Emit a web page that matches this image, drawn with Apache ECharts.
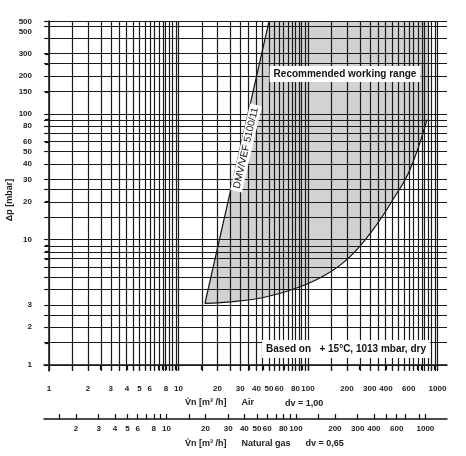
<!DOCTYPE html>
<html><head><meta charset="utf-8">
<script src="https://cdn.jsdelivr.net/npm/echarts@6/dist/echarts.min.js"></script>
<style>html,body{margin:0;padding:0;background:#fff}#c{width:466px;height:456px}</style>
</head><body><div id="c"></div>
<script>
// Data (air flow m3/h, pressure drop mbar)
const curveX = [16, 26.4, 48, 87, 140, 211, 318, 453, 613, 830];
const curveY = [3.1, 3.2, 3.5, 4.2, 5.3, 7.3, 12, 20.8, 36, 90];
const leftX = [16, 50];
const leftY = [3.1, 547];
const topRightX = 860;
const yTickLabels = [1, 2, 3, 10, 20, 30, 40, 50, 60, 80, 100, 150, 200, 300, 450, 547];
const yTickText = {450: '500', 547: '500'};
const airTickLabels = [1, 2, 3, 4, 5, 6, 8, 10, 20, 30, 40, 50, 60, 80, 100, 200, 300, 400, 600, 800, 1000];
const airTicks = [1, 1.5, 2, 2.5, 3, 3.5, 4, 4.5, 5, 5.5, 6, 6.5, 7, 7.5, 8, 8.5, 9, 9.5, 10];
const gasTickLabels = [2, 3, 4, 5, 6, 8, 10, 20, 30, 40, 50, 60, 80, 100, 200, 300, 400, 600, 800, 1000];
const gasFactor = 1.24;
const vGrid = [1, 1.5, 2, 2.5, 3, 3.5, 4, 4.5, 5, 5.5, 6, 6.5, 7, 7.5, 8, 8.5, 9, 9.5];
const hGrid = [1, 1.5, 2, 2.5, 3, 4, 5, 6, 7, 8, 9];

const L = Math.log10;
const xmin = L(0.915), xmax = L(1184), ymin = L(0.896), ymax = L(550);
const decades = [1, 10, 100];
const vLines = [], hLines = [];
decades.forEach(d => vGrid.forEach(v => vLines.push(L(v * d))));
vLines.push(L(1000));
decades.forEach(d => hGrid.forEach(v => { if (v * d <= 550) hLines.push(L(v * d)); }));
hLines.push(L(547));
const airTickAll = [];
decades.forEach(d => airTicks.forEach(v => airTickAll.push(L(v * d))));
const gasTickAll = [];
decades.forEach(d => [1,2,3,4,5,6,7,8,9].forEach(v => { const g = v * d; if (g >= 1.5) gasTickAll.push(L(g) - L(gasFactor)); }));
gasTickAll.push(L(1000) - L(gasFactor));
[1.5,15,150].forEach(g=>gasTickAll.push(L(g)-L(gasFactor)));

const lab = {fontFamily: 'Liberation Sans', fontWeight: 'bold', fontSize: 8, color: '#222', showMaxLabel: true, showMinLabel: true, hideOverlap: false};
const axLine = {show: true, lineStyle: {color: '#111', width: 1.5}};

const poly = [];
poly.push([L(leftX[0]), L(leftY[0])], [L(leftX[1]), L(leftY[1])], [L(topRightX), L(leftY[1])], [L(topRightX), L(curveY[curveY.length-1])]);
for (let i = curveX.length - 1; i >= 0; i--) poly.push([L(curveX[i]), L(curveY[i])]);
const curve = curveX.map((x, i) => [L(x), L(curveY[i])]);
const left = leftX.map((x, i) => [L(x), L(leftY[i])]);

const chart = echarts.init(document.getElementById('c'));
chart.setOption({
  animation: false,
  grid: {left: 44, right: 19, top: 21, bottom: 85},
  xAxis: [
    {type: 'value', min: xmin, max: xmax, position: 'bottom', offset: 8,
     axisLine: axLine, splitLine: {show: false},
     axisTick: {show: true, customValues: airTickAll, length: 5, lineStyle: {color: '#111', width: 1.2}},
     axisLabel: Object.assign({customValues: airTickLabels.map(L), margin: 6,
       formatter: v => String(Math.round(Math.pow(10, v)))}, lab)},
    {type: 'value', min: xmin, max: xmax, position: 'bottom', offset: 48,
     axisLine: axLine, splitLine: {show: false},
     axisTick: {show: true, customValues: gasTickAll, inside: true, length: 5, lineStyle: {color: '#111', width: 1.2}},
     axisLabel: Object.assign({customValues: gasTickLabels.map(g => L(g) - L(gasFactor)), margin: 6,
       formatter: v => String(Math.round(Math.pow(10, v + L(gasFactor))))}, lab)}
  ],
  yAxis: {type: 'value', min: ymin, max: ymax, offset: 6,
    axisLine: axLine, splitLine: {show: false},
    axisTick: {show: true, customValues: hLines, length: 4, lineStyle: {color: '#111', width: 1.2}},
    axisLabel: Object.assign({customValues: yTickLabels.map(L), margin: 6,
      formatter: v => { const r = Math.round(Math.pow(10, v)); return yTickText[r] || String(r); }}, lab)},
  series: [
    {type: 'custom', xAxisIndex: 0, data: [0], silent: true, z: 1,
     renderItem: (p, api) => ({type: 'polygon', shape: {points: poly.map(pt => api.coord(pt))}, style: {fill: '#d2d2d2'}})},
    {type: 'line', xAxisIndex: 0, data: [], z: 2,
     markLine: {silent: true, symbol: 'none', label: {show: false}, lineStyle: {color: '#1a1a1a', width: 1.2, type: 'solid'},
       data: vLines.map(v => ({xAxis: v})).concat(hLines.map(v => ({yAxis: v})))}},
    {type: 'line', xAxisIndex: 0, data: curve, smooth: 0.4, symbol: 'none', z: 3, lineStyle: {color: '#111', width: 1.2}},
    {type: 'line', xAxisIndex: 0, data: left, symbol: 'none', z: 3, lineStyle: {color: '#111', width: 1.2}}
  ],
  graphic: [
    {type: 'text', x: 10, y: 200, rotation: Math.PI / 2, z: 10,
     style: {text: 'Δp [mbar]', fontFamily: 'Liberation Sans', fontWeight: 'bold', fontSize: 9, fill: '#222', align: 'center', verticalAlign: 'middle'}},
    {type: 'text', x: 345, y: 74, z: 10,
     style: {text: 'Recommended working range', fontFamily: 'Liberation Sans', fontWeight: 'bold', fontSize: 10, fill: '#111', align: 'center', verticalAlign: 'middle',
       backgroundColor: '#fff', padding: [3, 4]}},
    {type: 'text', x: 246, y: 148, rotation: 77 * Math.PI / 180, z: 10,
     style: {text: 'DMV/VEF 5100/11', fontFamily: 'Liberation Sans', fontSize: 10, fill: '#111', align: 'center', verticalAlign: 'middle',
       backgroundColor: '#fff', padding: [1, 3]}},
    {type: 'text', x: 346, y: 349, z: 10,
     style: {text: 'Based on   + 15°C, 1013 mbar, dry', fontFamily: 'Liberation Sans', fontWeight: 'bold', fontSize: 10, fill: '#111', align: 'center', verticalAlign: 'middle',
       backgroundColor: '#fff', padding: [4, 4]}},
    {type: 'text', x: 185, y: 403, z: 10,
     style: {text: 'V̊n [m³ /h]      Air', fontFamily: 'Liberation Sans', fontWeight: 'bold', fontSize: 9, fill: '#222', verticalAlign: 'middle'}},
    {type: 'text', x: 285, y: 404, z: 10,
     style: {text: 'dv = 1,00', fontFamily: 'Liberation Sans', fontWeight: 'bold', fontSize: 9, fill: '#222', verticalAlign: 'middle'}},
    {type: 'text', x: 185, y: 444, z: 10,
     style: {text: 'V̊n [m³ /h]      Natural gas      dv = 0,65', fontFamily: 'Liberation Sans', fontWeight: 'bold', fontSize: 9, fill: '#222', verticalAlign: 'middle'}}
  ]
});
</script></body></html>
